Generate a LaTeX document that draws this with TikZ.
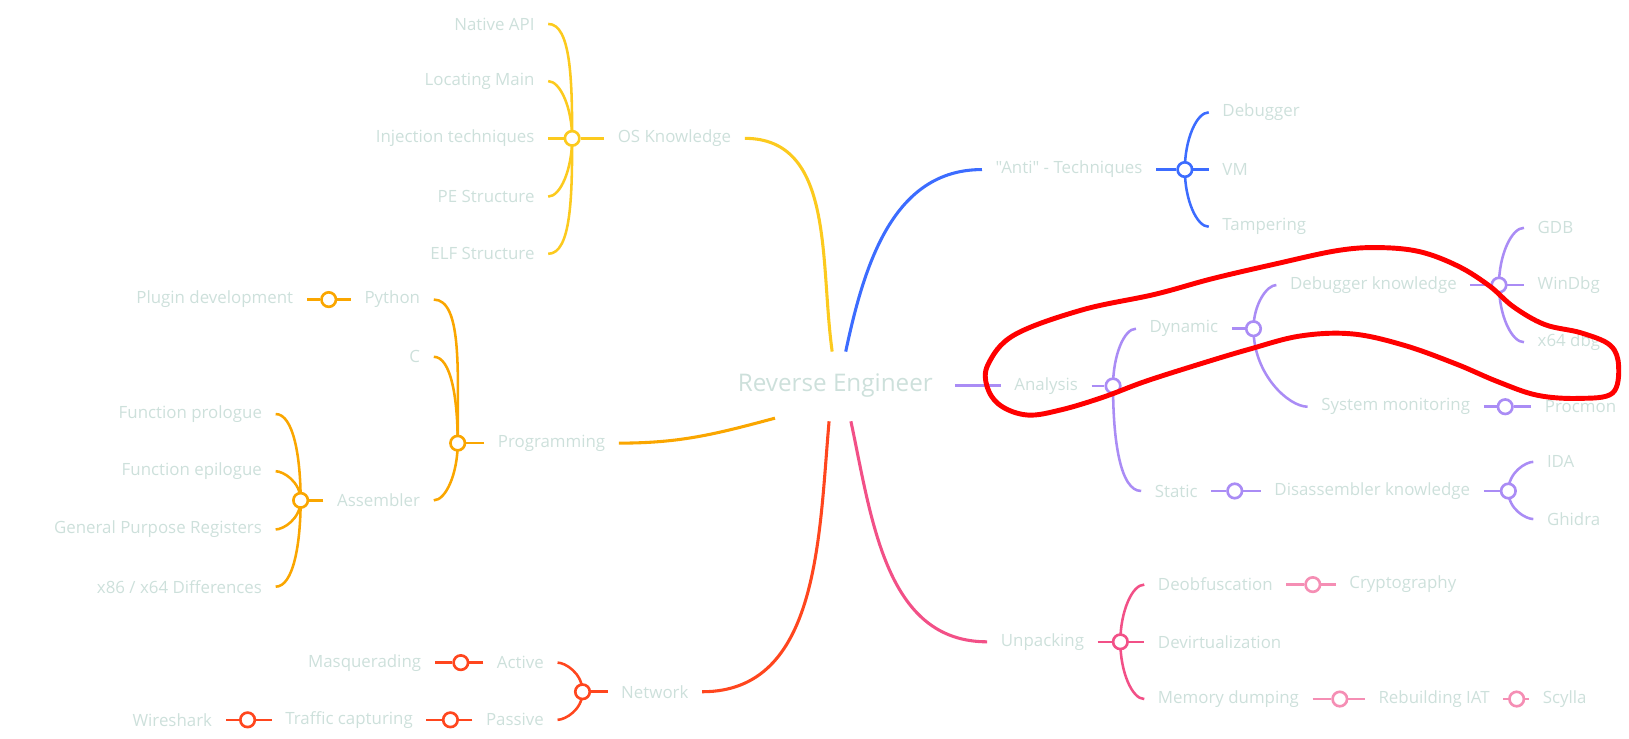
\documentclass[tikz,border=0pt]{standalone}
\usepackage{fontspec}
\newfontfamily\lblfont{Open Sans}
\usetikzlibrary{calc,backgrounds}
\definecolor{txt}{RGB}{205,224,219}
\definecolor{cyel}{RGB}{252,202,30}
\definecolor{corg}{RGB}{250,166,0}
\definecolor{cred}{RGB}{255,70,30}
\definecolor{cblu}{RGB}{60,108,255}
\definecolor{cpur}{RGB}{170,140,245}
\definecolor{cpnk}{RGB}{242,80,135}
\definecolor{clpk}{RGB}{245,142,180}
\begin{document}
\begin{tikzpicture}[x=0.0208cm,y=-0.0208cm]

  \tikzset{lbl/.style={text=txt,font=\lblfont\fontsize{9.6}{11}\selectfont,inner xsep=7.6pt,inner ysep=1pt},
    junc/.style={circle,draw,fill=white,line width=1.5pt,inner sep=0pt,minimum size=0.29cm},
    link/.style={line width=1.45pt},
    trunk/.style={line width=1.75pt},
    fan/.style={out looseness=1.25,in looseness=0.5}}
  \useasboundingbox (0,0) rectangle (1566,710);

  \node[lbl,font=\lblfont\fontsize{13.8}{16}\selectfont] (root) at (803,371) {Reverse Engineer};

  \node[lbl,anchor=east] (os) at (716,133) {OS Knowledge};
  \node[junc,draw=cyel] (jos) at (550,133) {};
  \foreach \n/\t/\y in {nat/Native API/23,loc/Locating Main/78,inj/Injection techniques/133,pe/PE Structure/189,elf/ELF Structure/244}
    \node[lbl,anchor=east] (\n) at (527,\y) {\t};

  \node[lbl,anchor=east] (prog) at (595,426) {Programming};
  \node[junc,draw=corg] (jprog) at (440,426) {};
  \foreach \n/\t/\y in {py/Python/288,c/C/343,asm/Assembler/481}
    \node[lbl,anchor=east] (\n) at (417,\y) {\t};
  \node[junc,draw=corg] (jpy) at (316,288) {};
  \node[lbl,anchor=east] (plug) at (295,288) {Plugin development};
  \node[junc,draw=corg] (jasm) at (289,481) {};
  \foreach \n/\t/\y in {fpro/Function prologue/398,fepi/Function epilogue/453,gpr/General Purpose Registers/509,xdif/{x86 / x64 Differences}/564}
    \node[lbl,anchor=east] (\n) at (265,\y) {\t};

  \node[lbl,anchor=east] (net) at (675,665) {Network};
  \node[junc,draw=cred] (jnet) at (560,665) {};
  \node[lbl,anchor=east] (act) at (536,637) {Active};
  \node[lbl,anchor=east] (pas) at (536,692) {Passive};
  \node[junc,draw=cred] (jact) at (443,637) {};
  \node[lbl,anchor=east] (masq) at (418,637) {Masquerading};
  \node[junc,draw=cred] (jpas) at (433,692) {};
  \node[lbl,anchor=east] (traf) at (410,692) {Traffic capturing};
  \node[junc,draw=cred] (jtraf) at (238,692) {};
  \node[lbl,anchor=east] (wire) at (217,692) {Wireshark};

  \node[lbl,anchor=west] (anti) at (944,163) {"Anti" - Techniques};
  \node[junc,draw=cblu] (janti) at (1139,163) {};
  \foreach \n/\t/\y in {dbg/Debugger/108,vm/VM/163,tamp/Tampering/218}
    \node[lbl,anchor=west] (\n) at (1162,\y) {\t};

  \node[lbl,anchor=west] (ana) at (962,371) {Analysis};
  \node[junc,draw=cpur] (jana) at (1070,371) {};
  \node[lbl,anchor=west] (dyn) at (1092,316) {Dynamic};
  \node[lbl,anchor=west] (stat) at (1097,472) {Static};
  \node[junc,draw=cpur] (jdyn) at (1205,316) {};
  \node[lbl,anchor=west] (dbk) at (1227,274) {Debugger knowledge};
  \node[lbl,anchor=west] (sysm) at (1257,391) {System monitoring};
  \node[junc,draw=cpur] (jdbk) at (1441,274) {};
  \foreach \n/\t/\y in {gdb/GDB/219,wdbg/WinDbg/274,xdbg/x64 dbg/329}
    \node[lbl,anchor=west] (\n) at (1465,\y) {\t};
  \node[junc,draw=cpur] (jsysm) at (1447,391) {};
  \node[lbl,anchor=west] (proc) at (1472,391) {Procmon};
  \node[junc,draw=cpur] (jstat) at (1187,472) {};
  \node[lbl,anchor=west] (disk) at (1212,472) {Disassembler knowledge};
  \node[junc,draw=cpur] (jdisk) at (1450,472) {};
  \node[lbl,anchor=west] (ida) at (1474,444) {IDA};
  \node[lbl,anchor=west] (ghid) at (1474,499) {Ghidra};

  \node[lbl,anchor=west] (unp) at (949,617) {Unpacking};
  \node[junc,draw=cpnk] (junp) at (1077,617) {};
  \foreach \n/\t/\y in {deob/Deobfuscation/562,devi/Devirtualization/617,memd/Memory dumping/672}
    \node[lbl,anchor=west] (\n) at (1100,\y) {\t};
  \node[junc,draw=clpk] (jdeob) at (1262,562) {};
  \node[lbl,anchor=west] (cryp) at (1284,562) {Cryptography};
  \node[junc,draw=clpk] (jmemd) at (1288,672) {};
  \node[lbl,anchor=west] (riat) at (1312,672) {Rebuilding IAT};
  \node[junc,draw=clpk] (jriat) at (1458,672) {};
  \node[lbl,anchor=west] (scy) at (1470,672) {Scylla};

  \begin{scope}[on background layer]
    \draw[trunk,cyel] ($(root.center)+(-3,-33)$) to[out=98,in=0] (os.east);
    \draw[trunk,corg] ($(root.center)+(-58,31)$) to[out=195,in=0] (prog.east);
    \draw[trunk,cred] ($(root.center)+(-6,34)$) to[out=265,in=0] (net.east);
    \draw[trunk,cblu] ($(root.center)+(10,-33)$) to[out=78,in=180] (anti.west);
    \draw[trunk,cpur] ($(root.center)+(115,0)$) -- (ana.west);
    \draw[trunk,cpnk] ($(root.center)+(15,34)$) to[out=282,in=180] (unp.west);

    \draw[link,cyel] (os.west) -- (jos);
    \foreach \n/\o in {nat/90,loc/90,inj/180,pe/270,elf/270}
      \draw[link,cyel] (jos.center) to[fan,out=\o,in=0] (\n.east);

    \draw[link,corg] (prog.west) -- (jprog);
    \foreach \n/\o in {py/90,c/90,asm/270}
      \draw[link,corg] (jprog.center) to[fan,out=\o,in=0] (\n.east);
    \draw[link,corg] (py.west) -- (jpy) -- (plug.east);
    \draw[link,corg] (asm.west) -- (jasm);
    \foreach \n/\o in {fpro/90,fepi/90,gpr/270,xdif/270}
      \draw[link,corg] (jasm.center) to[fan,out=\o,in=0] (\n.east);

    \draw[link,cred] (net.west) -- (jnet);
    \draw[link,cred] (jnet.center) to[fan,out=90,in=0] (act.east);
    \draw[link,cred] (jnet.center) to[fan,out=270,in=0] (pas.east);
    \draw[link,cred] (act.west) -- (jact) -- (masq.east);
    \draw[link,cred] (pas.west) -- (jpas) -- (traf.east);
    \draw[link,cred] (traf.west) -- (jtraf) -- (wire.east);

    \draw[link,cblu] (anti.east) -- (janti);
    \foreach \n/\o in {dbg/90,vm/0,tamp/270}
      \draw[link,cblu] (janti.center) to[fan,out=\o,in=180] (\n.west);

    \draw[link,cpur] (ana.east) -- (jana);
    \draw[link,cpur] (jana.center) to[fan,out=90,in=180] (dyn.west);
    \draw[link,cpur] (jana.center) to[fan,out=270,in=180] (stat.west);
    \draw[link,cpur] (dyn.east) -- (jdyn);
    \draw[link,cpur] (jdyn.center) to[fan,out=90,in=180] (dbk.west);
    \draw[link,cpur] (jdyn.center) to[fan,out=270,in=180] (sysm.west);
    \draw[link,cpur] (dbk.east) -- (jdbk);
    \foreach \n/\o in {gdb/90,wdbg/0,xdbg/270}
      \draw[link,cpur] (jdbk.center) to[fan,out=\o,in=180] (\n.west);
    \draw[link,cpur] (sysm.east) -- (jsysm) -- (proc.west);
    \draw[link,cpur] (stat.east) -- (jstat) -- (disk.west);
    \draw[link,cpur] (disk.east) -- (jdisk);
    \draw[link,cpur] (jdisk.center) to[fan,out=90,in=180] (ida.west);
    \draw[link,cpur] (jdisk.center) to[fan,out=270,in=180] (ghid.west);

    \draw[link,cpnk] (unp.east) -- (junp);
    \foreach \n/\o in {deob/90,devi/0,memd/270}
      \draw[link,cpnk] (junp.center) to[fan,out=\o,in=180] (\n.west);
    \draw[link,clpk] (deob.east) -- (jdeob) -- (cryp.west);
    \draw[link,clpk] (memd.east) -- (jmemd) -- (riat.west);
    \draw[link,clpk] (riat.east) -- (jriat) -- (scy.west);
  \end{scope}

  \draw[red,line width=2.8pt] plot[smooth cycle,tension=0.6] coordinates {(950,350) (975,322) (1040,298) (1110,283) (1165,268) (1225,254) (1285,241) (1325,238) (1365,242) (1402,256) (1432,275) (1455,295) (1485,312) (1520,320) (1548,332) (1556,352) (1550,378) (1518,383) (1478,380) (1440,367) (1400,350) (1350,332) (1300,321) (1250,323) (1200,336) (1150,351) (1100,367) (1060,382) (1020,394) (988,399) (962,390) (949,372)};
\end{tikzpicture}
\end{document}
